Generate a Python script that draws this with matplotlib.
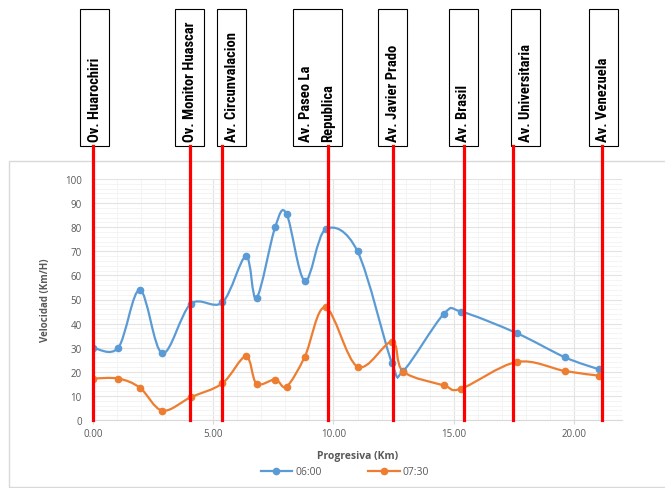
import matplotlib
matplotlib.use("Agg")
import matplotlib.pyplot as plt
from matplotlib.path import Path
from matplotlib.patches import PathPatch, Rectangle
from matplotlib.lines import Line2D
from matplotlib.ticker import MultipleLocator, FormatStrFormatter
from matplotlib import font_manager
import numpy as np

# Progresiva (km) and speeds (km/h) for both survey times
km = [0.0, 1.05, 1.95, 2.88, 4.06, 5.38, 6.36, 6.80, 7.58, 8.05, 8.81, 9.67,
      11.0, 12.43, 12.9, 14.58, 15.31, 17.63, 19.63, 21.05]
vel_0600 = [30, 30, 54, 27.7, 48.1, 48.8, 67.9, 50.6, 80.2, 85.5, 57.7, 79.1,
            70, 23.7, 20.3, 43.9, 45, 36, 26, 21]
vel_0730 = [17.2, 17.2, 13.4, 3.9, 9.4, 15.2, 26.4, 15.1, 16.8, 13.9, 26.3, 46.8,
            22.1, 32.5, 20.1, 14.4, 13, 24.1, 20.3, 18.4]

# Cross streets along the route
street_km = [0.0, 4.02, 5.35, 9.78, 12.46, 15.43, 17.45, 21.18]
street_names = ["Ov. Huarochiri", "Ov. Monitor Huascar", "Av. Circunvalacion",
                "Av. Paseo La\nRepublica", "Av. Javier Prado", "Av. Brasil",
                "Av. Universitaria", "Av. Venezuela"]

W, H = 665, 489
fig = plt.figure(figsize=(W / 100, H / 100), dpi=100)
fig.patch.set_facecolor("white")

ax_l, ax_r, ax_t, ax_b = 93, 622, 180, 421
ax = fig.add_axes([ax_l / W, 1 - ax_b / H, (ax_r - ax_l) / W, (ax_b - ax_t) / H])
ax.set_xlim(0, 22)
ax.set_ylim(0, 100)

BLUE = "#5B9BD5"
ORANGE = "#ED7D31"
GRAY = "#595959"
BASE = ["Open Sans", "DejaVu Sans"]

# pick an upright condensed bold face for the street labels if one is installed
label_font = None
for f in font_manager.fontManager.ttflist:
    name = f.name.lower()
    fn = f.fname.lower()
    condensed = ("narrow" in name or "condensed" in name or "condensed" in fn
                 or "narrow" in fn or "condensed" in str(f.stretch))
    if condensed and f.style == "normal" and "italic" not in fn \
            and f.weight in ("bold", 700, "700"):
        label_font = font_manager.FontProperties(fname=f.fname)
        if "liberation" in name or "liberation" in fn:
            break
if label_font is None:
    label_font = font_manager.FontProperties(family="DejaVu Sans", weight="bold",
                                             stretch="condensed")
label_font.set_size(10.5)


def smooth_path(xs, ys):
    """Excel-style smoothed line: cubic Bezier through every point."""
    pts = np.column_stack([xs, ys]).astype(float)
    n = len(pts)
    verts = [pts[0]]
    codes = [Path.MOVETO]
    for i in range(n - 1):
        p_prev = pts[max(i - 1, 0)]
        p0 = pts[i]
        p1 = pts[i + 1]
        p_next = pts[min(i + 2, n - 1)]
        c1 = p0 + (p1 - p_prev) / 6.0
        c2 = p1 - (p_next - p0) / 6.0
        verts += [c1, c2, p1]
        codes += [Path.CURVE4] * 3
    return Path(verts, codes)


for ys, col in [(vel_0600, BLUE), (vel_0730, ORANGE)]:
    ax.add_patch(PathPatch(smooth_path(km, ys), facecolor="none", edgecolor=col,
                           lw=1.6, zorder=3, capstyle="round"))
    ax.plot(km, ys, "o", color=col, ms=4.5, zorder=4)

# grid
ax.xaxis.set_major_locator(MultipleLocator(5))
ax.xaxis.set_minor_locator(MultipleLocator(1))
ax.yaxis.set_major_locator(MultipleLocator(10))
ax.yaxis.set_minor_locator(MultipleLocator(2))
ax.grid(which="major", color="#E3E3E3", lw=0.8)
ax.grid(which="minor", color="#F3F3F3", lw=0.6)
ax.set_axisbelow(True)
ax.xaxis.set_major_formatter(FormatStrFormatter("%.2f"))
for s in ["top", "right", "left"]:
    ax.spines[s].set_visible(False)
ax.spines["bottom"].set_color("#D9D9D9")
ax.tick_params(axis="y", which="both", length=0, labelsize=7, labelcolor=GRAY, pad=8)
ax.tick_params(axis="x", which="major", length=3, color="#D9D9D9", labelsize=7,
               labelcolor=GRAY, pad=3)
ax.tick_params(axis="x", which="minor", length=0)
for lab in ax.get_xticklabels() + ax.get_yticklabels():
    lab.set_family(BASE)

ax.set_xlabel("Progresiva (Km)", fontsize=7.5, fontweight="bold", color=GRAY,
              family=BASE, labelpad=8)
ax.set_ylabel("Velocidad (Km/H)", fontsize=7, fontweight="bold", color=GRAY,
              family=BASE, labelpad=10)

handles = [Line2D([], [], color=BLUE, marker="o", ms=4.5, lw=1.6),
           Line2D([], [], color=ORANGE, marker="o", ms=4.5, lw=1.6)]
fig.legend(handles, ["06:00", "07:30"], loc="center", bbox_to_anchor=(345 / W, 1 - 473 / H),
           ncol=2, frameon=False, prop={"family": BASE, "size": 7.5},
           labelcolor=GRAY, handlelength=3, columnspacing=4.5, handletextpad=0.3)

# chart area frame
fig.add_artist(Rectangle((8.5 / W, 1 - 488 / H), (W + 5) / W, (488 - 162) / H,
                         transform=fig.transFigure, fill=False, edgecolor="#D9D9D9",
                         lw=1, clip_on=False))

# street markers: red line plus labelled box above the chart
box_offsets = [2, 0, 10, -11, 0, -1, 13, 1]
box_widths = [29, 29, 29, 49, 29, 29, 29, 29]
box_top, box_bot = 10, 147
for xk, name, off, bw in zip(street_km, street_names, box_offsets, box_widths):
    px = ax.transData.transform((xk, 0))[0]
    fig.add_artist(Line2D([px / W, px / W], [1 - box_bot / H, 1 - ax_b / H],
                          transform=fig.transFigure, color="#FF0000", lw=2.3,
                          zorder=5))
    cx = px + off
    fig.add_artist(Rectangle(((cx - bw / 2) / W, 1 - box_bot / H), bw / W,
                             (box_bot - box_top) / H, transform=fig.transFigure,
                             facecolor="white", edgecolor="black", lw=0.8))
    fig.text(cx / W, 1 - (box_bot - 5) / H, name, rotation=90, ha="center",
             va="bottom", fontproperties=label_font,
             color="black", linespacing=1.7, multialignment="left")

fig.savefig("out.png", dpi=100, facecolor="white")
